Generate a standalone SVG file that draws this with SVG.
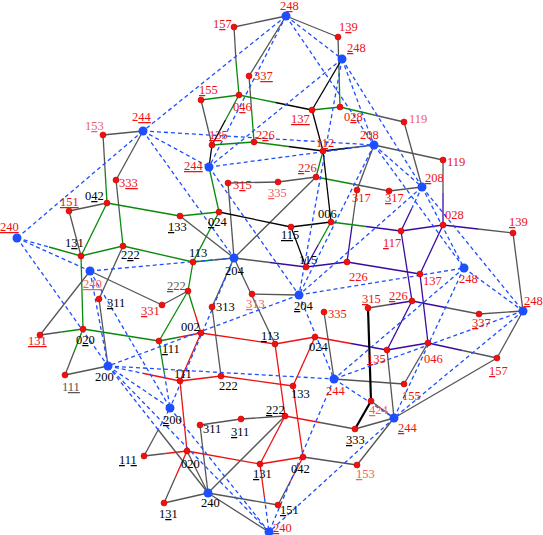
<svg xmlns="http://www.w3.org/2000/svg" width="543" height="535" viewBox="0 0 543 535">
<style>
text{font-family:"Liberation Serif","Times New Roman",serif;font-size:12.5px}
.k{fill:#000}.r{fill:#ee1111}.p{fill:#f06060}.gy{fill:#555}
.u{text-decoration:underline}
.rn{fill:#ee1111;stroke:#c00;stroke-width:0.6}
.bn{fill:#1d4fff}
.g{stroke:#555;stroke-width:1.3;fill:none}
.gn{stroke:#0a8a0a;stroke-width:1.3}
.rd{stroke:#ee1111;stroke-width:1.3}
.pu{stroke:#3a0aa0;stroke-width:1.3}
.bk{stroke:#000;stroke-width:1.3}
.bt{stroke:#000;stroke-width:2.2}
.d{stroke:#1d4fff;stroke-width:1.3;stroke-dasharray:4 3;fill:none}
</style>
<g id="connectors">
<line class="g" x1="234" y1="27" x2="286" y2="16"/>
<line class="g" x1="286" y1="16" x2="338" y2="37"/>
<line class="g" x1="286" y1="16" x2="249" y2="76"/>
<line class="g" x1="234" y1="27" x2="236" y2="61"/><line class="gn" x1="236" y1="61" x2="239" y2="95"/>
<line class="g" x1="338" y1="37" x2="339" y2="72"/><line class="gn" x1="339" y1="72" x2="340" y2="107"/>
<line class="g" x1="249" y1="76" x2="251.5" y2="109"/><line class="gn" x1="251.5" y1="109" x2="254" y2="142"/>
<line class="gn" x1="201" y1="100" x2="239" y2="95"/>
<line class="gn" x1="239" y1="95" x2="275.5" y2="102.5"/><line class="bk" x1="275.5" y1="102.5" x2="312" y2="110"/>
<line class="gn" x1="312" y1="110" x2="340" y2="107"/>
<line class="gn" x1="340" y1="107" x2="372" y2="114.5"/><line class="g" x1="372" y1="114.5" x2="404" y2="122"/>
<line class="bk" x1="312" y1="110" x2="342" y2="59"/>
<line class="bk" x1="312" y1="110" x2="323" y2="151"/>
<line class="g" x1="201" y1="100" x2="212" y2="145"/>
<line class="gn" x1="239" y1="95" x2="225.5" y2="120"/><line class="bk" x1="225.5" y1="120" x2="212" y2="145"/>
<line class="g" x1="404" y1="122" x2="422" y2="187"/>
<line class="g" x1="374" y1="145" x2="443" y2="160"/>
<line class="g" x1="443" y1="160" x2="443" y2="192.5"/><line class="pu" x1="443" y1="192.5" x2="443" y2="225"/>
<line class="pu" x1="443" y1="225" x2="478" y2="229"/><line class="g" x1="478" y1="229" x2="513" y2="233"/>
<line class="pu" x1="443" y1="225" x2="401" y2="231"/>
<line class="pu" x1="401" y1="231" x2="411.5" y2="209"/><line class="d" x1="411.5" y1="209" x2="422" y2="187"/>
<line class="g" x1="374" y1="145" x2="357" y2="190"/>
<line class="g" x1="357" y1="190" x2="352" y2="226"/><line class="pu" x1="352" y1="226" x2="347" y2="262"/>
<line class="gn" x1="316" y1="177" x2="352.5" y2="184"/><line class="g" x1="352.5" y1="184" x2="389" y2="191"/>
<line class="g" x1="389" y1="191" x2="422" y2="187"/>
<line class="gn" x1="331" y1="222" x2="366" y2="226.5"/><line class="pu" x1="366" y1="226.5" x2="401" y2="231"/>
<line class="pu" x1="401" y1="231" x2="412" y2="301"/>
<line class="pu" x1="443" y1="225" x2="420" y2="274"/>
<line class="pu" x1="420" y1="274" x2="428" y2="343"/>
<line class="pu" x1="347" y1="262" x2="420" y2="274"/>
<line class="pu" x1="412" y1="301" x2="445.5" y2="307.5"/><line class="g" x1="445.5" y1="307.5" x2="479" y2="314"/>
<line class="g" x1="479" y1="314" x2="523" y2="311"/>
<line class="g" x1="368" y1="308" x2="390" y2="304.5"/><line class="pu" x1="390" y1="304.5" x2="412" y2="301"/>
<line class="pu" x1="412" y1="301" x2="387" y2="350"/>
<line class="pu" x1="387" y1="350" x2="428" y2="343"/>
<line class="pu" x1="428" y1="343" x2="462.5" y2="350.5"/><line class="g" x1="462.5" y1="350.5" x2="497" y2="358"/>
<line class="g" x1="428" y1="343" x2="404" y2="384"/>
<line class="g" x1="387" y1="350" x2="394" y2="418"/>
<line class="g" x1="334" y1="379" x2="404" y2="384"/>
<line class="g" x1="497" y1="358" x2="523" y2="311"/>
<line class="g" x1="394" y1="418" x2="497" y2="358"/>
<line class="g" x1="513" y1="233" x2="523" y2="311"/>
<line class="g" x1="103" y1="135" x2="143" y2="131"/>
<line class="g" x1="103" y1="135" x2="105" y2="169"/><line class="gn" x1="105" y1="169" x2="107" y2="203"/>
<line class="g" x1="143" y1="131" x2="116" y2="180"/>
<line class="g" x1="116" y1="180" x2="119.5" y2="213"/><line class="gn" x1="119.5" y1="213" x2="123" y2="246"/>
<line class="gn" x1="107" y1="203" x2="180" y2="216"/>
<line class="g" x1="107" y1="203" x2="69" y2="211"/>
<line class="gn" x1="107" y1="203" x2="81" y2="256"/>
<line class="g" x1="69" y1="211" x2="81" y2="256"/>
<line class="gn" x1="81" y1="256" x2="123" y2="246"/>
<line class="gn" x1="123" y1="246" x2="193" y2="262"/>
<line class="gn" x1="180" y1="216" x2="219" y2="212"/>
<line class="gn" x1="212" y1="145" x2="254" y2="142"/>
<line class="gn" x1="254" y1="142" x2="288.5" y2="146.5"/><line class="bk" x1="288.5" y1="146.5" x2="323" y2="151"/>
<line class="gn" x1="323" y1="151" x2="316" y2="177"/>
<line class="bk" x1="323" y1="151" x2="331" y2="222"/>
<line class="bk" x1="323" y1="151" x2="348.5" y2="148"/><line class="g" x1="348.5" y1="148" x2="374" y2="145"/>
<line class="g" x1="316" y1="177" x2="278" y2="182"/>
<line class="g" x1="278" y1="182" x2="228" y2="183"/>
<line class="g" x1="228" y1="183" x2="234" y2="258"/>
<line class="g" x1="316" y1="177" x2="234" y2="258"/>
<line class="bk" x1="219" y1="212" x2="291" y2="227"/>
<line class="bk" x1="331" y1="222" x2="291" y2="227"/>
<line class="gn" x1="331" y1="222" x2="318.5" y2="244.5"/><line class="pu" x1="318.5" y1="244.5" x2="306" y2="267"/>
<line class="bk" x1="291" y1="227" x2="306" y2="267"/>
<line class="pu" x1="306" y1="267" x2="347" y2="262"/>
<line class="g" x1="234" y1="258" x2="270" y2="262.5"/><line class="pu" x1="270" y1="262.5" x2="306" y2="267"/>
<line class="gn" x1="193" y1="262" x2="213.5" y2="260"/><line class="g" x1="213.5" y1="260" x2="234" y2="258"/>
<line class="gn" x1="219" y1="212" x2="193" y2="262"/>
<line class="bk" x1="212" y1="145" x2="209" y2="167"/><line class="gn" x1="209" y1="167" x2="219" y2="212"/>
<line class="g" x1="180" y1="216" x2="234" y2="258"/>
<line class="g" x1="234" y1="258" x2="212" y2="307"/>
<line class="g" x1="234" y1="258" x2="275" y2="344"/>
<line class="g" x1="252" y1="294" x2="299" y2="295"/>
<line class="g" x1="324" y1="312" x2="334" y2="379"/>
<line class="rd" x1="201" y1="333" x2="275" y2="344"/>
<line class="rd" x1="275" y1="344" x2="315" y2="337"/>
<line class="rd" x1="315" y1="337" x2="351" y2="343.5"/><line class="pu" x1="351" y1="343.5" x2="387" y2="350"/>
<line class="rd" x1="201" y1="333" x2="194.5" y2="312"/><line class="gn" x1="194.5" y1="312" x2="188" y2="291"/>
<line class="rd" x1="201" y1="333" x2="180" y2="381"/>
<line class="rd" x1="180" y1="381" x2="221" y2="376"/>
<line class="rd" x1="221" y1="376" x2="293" y2="386"/>
<line class="rd" x1="275" y1="344" x2="285" y2="416"/>
<line class="rd" x1="315" y1="337" x2="293" y2="386"/>
<line class="g" x1="221" y1="376" x2="212" y2="307"/>
<line class="rd" x1="293" y1="386" x2="303" y2="457"/>
<line class="rd" x1="285" y1="416" x2="320" y2="422.5"/><line class="g" x1="320" y1="422.5" x2="355" y2="429"/>
<line class="rd" x1="285" y1="416" x2="260" y2="464"/>
<line class="rd" x1="260" y1="464" x2="187" y2="451"/>
<line class="rd" x1="260" y1="464" x2="303" y2="457"/>
<line class="rd" x1="180" y1="381" x2="187" y2="451"/>
<line class="g" x1="144" y1="456" x2="165.5" y2="453.5"/><line class="rd" x1="165.5" y1="453.5" x2="187" y2="451"/>
<line class="rd" x1="187" y1="451" x2="175.5" y2="477"/><line class="g" x1="175.5" y1="477" x2="164" y2="503"/>
<line class="g" x1="303" y1="457" x2="357" y2="465"/>
<line class="rd" x1="303" y1="457" x2="290.5" y2="481"/><line class="g" x1="290.5" y1="481" x2="278" y2="505"/>
<line class="g" x1="278" y1="505" x2="208" y2="493"/>
<line class="g" x1="187" y1="451" x2="208" y2="493"/>
<line class="g" x1="200" y1="425" x2="208" y2="493"/>
<line class="g" x1="200" y1="425" x2="241" y2="419"/>
<line class="g" x1="241" y1="419" x2="285" y2="416"/>
<line class="g" x1="208" y1="493" x2="285" y2="416"/>
<line class="g" x1="208" y1="493" x2="164" y2="503"/>
<line class="g" x1="208" y1="493" x2="269" y2="532"/>
<line class="rd" x1="260" y1="464" x2="264.5" y2="498"/><line class="d" x1="264.5" y1="498" x2="269" y2="532"/>
<line class="g" x1="355" y1="429" x2="394" y2="418"/>
<line class="g" x1="357" y1="465" x2="394" y2="418"/>
<line class="g" x1="371" y1="401" x2="394" y2="418"/>
<line class="bt" x1="368" y1="308" x2="371" y2="401"/>
<line class="bt" x1="371" y1="401" x2="355" y2="429"/>
<line class="gn" x1="49" y1="247" x2="81" y2="256"/>
<line class="gn" x1="81" y1="256" x2="83" y2="329"/>
<line class="gn" x1="83" y1="329" x2="61.5" y2="332"/><line class="g" x1="61.5" y1="332" x2="40" y2="335"/>
<line class="g" x1="40" y1="335" x2="90" y2="271"/>
<line class="gn" x1="83" y1="329" x2="74" y2="352"/><line class="g" x1="74" y1="352" x2="65" y2="375"/>
<line class="gn" x1="83" y1="329" x2="159" y2="341"/>
<line class="gn" x1="159" y1="341" x2="188" y2="291"/>
<line class="g" x1="162" y1="305" x2="188" y2="291"/>
<line class="g" x1="162" y1="305" x2="90" y2="271"/>
<line class="g" x1="99" y1="299" x2="123" y2="246"/>
<line class="g" x1="99" y1="299" x2="108" y2="366"/>
<line class="g" x1="65" y1="375" x2="108" y2="366"/>
<line class="d" x1="108" y1="366" x2="144" y2="373.5"/><line class="rd" x1="144" y1="373.5" x2="180" y2="381"/>
<line class="gn" x1="159" y1="341" x2="180" y2="337"/><line class="rd" x1="180" y1="337" x2="201" y2="333"/>
<line class="gn" x1="159" y1="341" x2="164.5" y2="374.5"/><line class="d" x1="164.5" y1="374.5" x2="170" y2="408"/>
<line class="gn" x1="188" y1="291" x2="193" y2="262"/>
<line class="g" x1="144" y1="456" x2="157" y2="432"/><line class="d" x1="157" y1="432" x2="170" y2="408"/>
<line class="d" x1="108" y1="366" x2="158" y2="429.5"/><line class="g" x1="158" y1="429.5" x2="208" y2="493"/>
<line class="d" x1="17" y1="238" x2="49" y2="247"/>
<line class="d" x1="286" y1="16" x2="143" y2="131"/>
<line class="d" x1="286" y1="16" x2="209" y2="167"/>
<line class="d" x1="286" y1="16" x2="342" y2="59"/>
<line class="d" x1="286" y1="16" x2="374" y2="145"/>
<line class="d" x1="342" y1="59" x2="374" y2="145"/>
<line class="d" x1="342" y1="59" x2="422" y2="187"/>
<line class="d" x1="342" y1="59" x2="209" y2="167"/>
<line class="d" x1="342" y1="59" x2="299" y2="295"/>
<line class="d" x1="143" y1="131" x2="17" y2="238"/>
<line class="d" x1="143" y1="131" x2="209" y2="167"/>
<line class="d" x1="143" y1="131" x2="374" y2="145"/>
<line class="d" x1="143" y1="131" x2="234" y2="258"/>
<line class="d" x1="209" y1="167" x2="374" y2="145"/>
<line class="d" x1="209" y1="167" x2="299" y2="295"/>
<line class="d" x1="374" y1="145" x2="422" y2="187"/>
<line class="d" x1="374" y1="145" x2="299" y2="295"/>
<line class="d" x1="374" y1="145" x2="464" y2="268"/>
<line class="d" x1="422" y1="187" x2="464" y2="268"/>
<line class="d" x1="422" y1="187" x2="523" y2="311"/>
<line class="d" x1="422" y1="187" x2="299" y2="295"/>
<line class="d" x1="17" y1="238" x2="90" y2="271"/>
<line class="d" x1="17" y1="238" x2="108" y2="366"/>
<line class="d" x1="90" y1="271" x2="108" y2="366"/>
<line class="d" x1="90" y1="271" x2="170" y2="408"/>
<line class="d" x1="90" y1="271" x2="234" y2="258"/>
<line class="d" x1="234" y1="258" x2="170" y2="408"/>
<line class="d" x1="299" y1="295" x2="334" y2="379"/>
<line class="d" x1="299" y1="295" x2="464" y2="268"/>
<line class="d" x1="299" y1="295" x2="108" y2="366"/>
<line class="d" x1="464" y1="268" x2="523" y2="311"/>
<line class="d" x1="464" y1="268" x2="334" y2="379"/>
<line class="d" x1="464" y1="268" x2="394" y2="418"/>
<line class="d" x1="523" y1="311" x2="334" y2="379"/>
<line class="d" x1="523" y1="311" x2="394" y2="418"/>
<line class="d" x1="108" y1="366" x2="170" y2="408"/>
<line class="d" x1="108" y1="366" x2="269" y2="532"/>
<line class="d" x1="108" y1="366" x2="334" y2="379"/>
<line class="d" x1="170" y1="408" x2="269" y2="532"/>
<line class="d" x1="334" y1="379" x2="394" y2="418"/>
<line class="d" x1="334" y1="379" x2="269" y2="532"/>
<line class="d" x1="394" y1="418" x2="269" y2="532"/>
</g>
<g id="B1"><circle class="bn" cx="286" cy="16" r="4.5"/><text class="r" x="280" y="10">2<tspan class="u">4</tspan>8</text></g>
<g id="B2"><circle class="bn" cx="342" cy="59" r="4.5"/><text class="r" x="347" y="52"><tspan class="u">2</tspan>48</text></g>
<g id="B3"><circle class="bn" cx="143" cy="131" r="4.5"/><text class="r" x="132" y="121">2<tspan class="u">44</tspan></text></g>
<g id="B4"><circle class="bn" cx="209" cy="167" r="4.5"/><text class="r" x="184" y="170"><tspan class="u">244</tspan></text></g>
<g id="B5"><circle class="bn" cx="374" cy="145" r="4.5"/><text class="r" x="360" y="139">208</text></g>
<g id="B6"><circle class="bn" cx="422" cy="187" r="4.5"/><text class="r" x="425" y="182"><tspan class="u">2</tspan>08</text></g>
<g id="B7"><circle class="bn" cx="17" cy="238" r="4.5"/><text class="r" x="0" y="231"><tspan class="u">240</tspan></text></g>
<g id="B8"><circle class="bn" cx="90" cy="271" r="4.5"/><text class="p" x="83" y="288"><tspan class="u">240</tspan></text></g>
<g id="B9"><circle class="bn" cx="234" cy="258" r="4.5"/><text class="k" x="225" y="275">204</text></g>
<g id="B10"><circle class="bn" cx="299" cy="295" r="4.5"/><text class="k" x="294" y="310"><tspan class="u">2</tspan>04</text></g>
<g id="B11"><circle class="bn" cx="464" cy="268" r="4.5"/><text class="r" x="459" y="283">248</text></g>
<g id="B12"><circle class="bn" cx="523" cy="311" r="4.5"/><text class="r" x="524" y="305"><tspan class="u">2</tspan>48</text></g>
<g id="B13"><circle class="bn" cx="108" cy="366" r="4.5"/><text class="k" x="95" y="381">200</text></g>
<g id="B14"><circle class="bn" cx="170" cy="408" r="4.5"/><text class="k" x="163" y="424"><tspan class="u">2</tspan>00</text></g>
<g id="B15"><circle class="bn" cx="334" cy="379" r="4.5"/><text class="r" x="326" y="395">244</text></g>
<g id="B16"><circle class="bn" cx="394" cy="418" r="4.5"/><text class="r" x="398" y="432"><tspan class="u">2</tspan>44</text></g>
<g id="B17"><circle class="bn" cx="208" cy="493" r="4.5"/><text class="k" x="201" y="507">240</text></g>
<g id="B18"><circle class="bn" cx="269" cy="532" r="4.5"/><text class="r" x="273" y="532"><tspan class="u">2</tspan>40</text></g>
<g id="R1"><circle class="rn" cx="234" cy="27" r="3"/><text class="r" x="213" y="28">1<tspan class="u">5</tspan>7</text></g>
<g id="R2"><circle class="rn" cx="338" cy="37" r="3"/><text class="r" x="339" y="31">1<tspan class="u">3</tspan>9</text></g>
<g id="R3"><circle class="rn" cx="249" cy="76" r="3"/><text class="r" x="254" y="80">3<tspan class="u">37</tspan></text></g>
<g id="R4"><circle class="rn" cx="201" cy="100" r="3"/><text class="r" x="199" y="94"><tspan class="u">1</tspan>55</text></g>
<g id="R5"><circle class="rn" cx="239" cy="95" r="3"/><text class="r" x="233" y="111">0<tspan class="u">4</tspan>6</text></g>
<g id="R6"><circle class="rn" cx="312" cy="110" r="3"/><text class="r" x="291" y="123"><tspan class="u">137</tspan></text></g>
<g id="R7"><circle class="rn" cx="340" cy="107" r="3"/><text class="r" x="344" y="121">0<tspan class="u">2</tspan>8</text></g>
<g id="R8"><circle class="rn" cx="404" cy="122" r="3"/><text class="p" x="409" y="123">119</text></g>
<g id="R9"><circle class="rn" cx="103" cy="135" r="3"/><text class="p" x="85" y="130">1<tspan class="u">5</tspan>3</text></g>
<g id="R10"><circle class="rn" cx="212" cy="145" r="3"/><text class="r" x="209" y="139"><tspan class="u">13</tspan>5</text></g>
<g id="R11"><circle class="rn" cx="254" cy="142" r="3"/><text class="r" x="256" y="139">2<tspan class="u">2</tspan>6</text></g>
<g id="R12"><circle class="rn" cx="323" cy="151" r="3"/><text class="r" x="316" y="147">1<tspan class="u">1</tspan>2</text></g>
<g id="R13"><circle class="rn" cx="316" cy="177" r="3"/><text class="r" x="298" y="172"><tspan class="u">2</tspan>26</text></g>
<g id="R14"><circle class="rn" cx="228" cy="183" r="3"/><text class="r" x="233" y="189">3<tspan class="u">1</tspan>5</text></g>
<g id="R15"><circle class="rn" cx="278" cy="182" r="3"/><text class="p" x="268" y="197"><tspan class="u">3</tspan>35</text></g>
<g id="R16"><circle class="rn" cx="357" cy="190" r="3"/><text class="r" x="352" y="202">317</text></g>
<g id="R17"><circle class="rn" cx="389" cy="191" r="3"/><text class="r" x="385" y="202"><tspan class="u">3</tspan>17</text></g>
<g id="R18"><circle class="rn" cx="443" cy="160" r="3"/><text class="r" x="447" y="166">119</text></g>
<g id="R19"><circle class="rn" cx="116" cy="180" r="3"/><text class="r" x="119" y="187">3<tspan class="u">33</tspan></text></g>
<g id="R20"><circle class="rn" cx="107" cy="203" r="3"/><text class="k" x="85" y="200">0<tspan class="u">4</tspan>2</text></g>
<g id="R21"><circle class="rn" cx="69" cy="211" r="3"/><text class="r" x="60" y="206"><tspan class="u">151</tspan></text></g>
<g id="R22"><circle class="rn" cx="180" cy="216" r="3"/><text class="k" x="168" y="231"><tspan class="u">1</tspan>33</text></g>
<g id="R23"><circle class="rn" cx="219" cy="212" r="3"/><text class="k" x="208" y="226"><tspan class="u">0</tspan>24</text></g>
<g id="R24"><circle class="rn" cx="331" cy="222" r="3"/><text class="k" x="318" y="218">006</text></g>
<g id="R25"><circle class="rn" cx="291" cy="227" r="3"/><text class="k" x="281" y="239"><tspan class="u">11</tspan>5</text></g>
<g id="R26"><circle class="rn" cx="443" cy="225" r="3"/><text class="r" x="445" y="219">028</text></g>
<g id="R27"><circle class="rn" cx="401" cy="231" r="3"/><text class="r" x="383" y="247"><tspan class="u">1</tspan>17</text></g>
<g id="R28"><circle class="rn" cx="513" cy="233" r="3"/><text class="r" x="509" y="226"><tspan class="u">1</tspan>39</text></g>
<g id="R29"><circle class="rn" cx="81" cy="256" r="3"/><text class="k" x="65" y="247">1<tspan class="u">3</tspan>1</text></g>
<g id="R30"><circle class="rn" cx="123" cy="246" r="3"/><text class="k" x="121" y="259">2<tspan class="u">2</tspan>2</text></g>
<g id="R31"><circle class="rn" cx="193" cy="262" r="3"/><text class="k" x="189" y="257">113</text></g>
<g id="R32"><circle class="rn" cx="306" cy="267" r="3"/><text class="k" x="299" y="264">115</text></g>
<g id="R33"><circle class="rn" cx="347" cy="262" r="3"/><text class="r" x="349" y="281">226</text></g>
<g id="R34"><circle class="rn" cx="420" cy="274" r="3"/><text class="r" x="423" y="285">137</text></g>
<g id="R35"><circle class="rn" cx="188" cy="291" r="3"/><text class="gy" x="167" y="290"><tspan class="u">2</tspan>22</text></g>
<g id="R36"><circle class="rn" cx="99" cy="299" r="3"/><text class="k" x="107" y="307"><tspan class="u">3</tspan>11</text></g>
<g id="R37"><circle class="rn" cx="162" cy="305" r="3"/><text class="r" x="141" y="315"><tspan class="u">3</tspan>31</text></g>
<g id="R38"><circle class="rn" cx="212" cy="307" r="3"/><text class="k" x="216" y="311">313</text></g>
<g id="R39"><circle class="rn" cx="252" cy="294" r="3"/><text class="p" x="246" y="308"><tspan class="u">3</tspan>13</text></g>
<g id="R40"><circle class="rn" cx="368" cy="308" r="3"/><text class="r" x="362" y="303"><tspan class="u">3</tspan>15</text></g>
<g id="R41"><circle class="rn" cx="412" cy="301" r="3"/><text class="r" x="389" y="300"><tspan class="u">2</tspan>26</text></g>
<g id="R42"><circle class="rn" cx="479" cy="314" r="3"/><text class="r" x="472" y="327"><tspan class="u">3</tspan>37</text></g>
<g id="R43"><circle class="rn" cx="324" cy="312" r="3"/><text class="r" x="328" y="318">335</text></g>
<g id="R44"><circle class="rn" cx="40" cy="335" r="3"/><text class="r" x="28" y="345"><tspan class="u">131</tspan></text></g>
<g id="R45"><circle class="rn" cx="83" cy="329" r="3"/><text class="k" x="76" y="344">0<tspan class="u">2</tspan>0</text></g>
<g id="R46"><circle class="rn" cx="159" cy="341" r="3"/><text class="k" x="162" y="353"><tspan class="u">1</tspan>11</text></g>
<g id="R47"><circle class="rn" cx="201" cy="333" r="3"/><text class="k" x="181" y="331">002</text></g>
<g id="R48"><circle class="rn" cx="275" cy="344" r="3"/><text class="k" x="261" y="340"><tspan class="u">1</tspan>13</text></g>
<g id="R49"><circle class="rn" cx="315" cy="337" r="3"/><text class="k" x="309" y="351">024</text></g>
<g id="R50"><circle class="rn" cx="387" cy="350" r="3"/><text class="r" x="367" y="363"><tspan class="u">1</tspan>35</text></g>
<g id="R51"><circle class="rn" cx="428" cy="343" r="3"/><text class="r" x="424" y="363">046</text></g>
<g id="R52"><circle class="rn" cx="497" cy="358" r="3"/><text class="r" x="489" y="375"><tspan class="u">1</tspan>57</text></g>
<g id="R53"><circle class="rn" cx="65" cy="375" r="3"/><text class="gy" x="62" y="391">1<tspan class="u">11</tspan></text></g>
<g id="R54"><circle class="rn" cx="180" cy="381" r="3"/><text class="k" x="174" y="378">111</text></g>
<g id="R55"><circle class="rn" cx="221" cy="376" r="3"/><text class="k" x="219" y="390">222</text></g>
<g id="R56"><circle class="rn" cx="293" cy="386" r="3"/><text class="k" x="291" y="398">133</text></g>
<g id="R57"><circle class="rn" cx="404" cy="384" r="3"/><text class="r" x="402" y="400">155</text></g>
<g id="R58"><circle class="rn" cx="371" cy="401" r="3"/><text class="p" x="369" y="414"><tspan class="u">4</tspan>24</text></g>
<g id="R59"><circle class="rn" cx="355" cy="429" r="3"/><text class="k" x="346" y="444"><tspan class="u">3</tspan>33</text></g>
<g id="R60"><circle class="rn" cx="200" cy="425" r="3"/><text class="k" x="203" y="433">311</text></g>
<g id="R61"><circle class="rn" cx="241" cy="419" r="3"/><text class="k" x="231" y="436"><tspan class="u">3</tspan>11</text></g>
<g id="R62"><circle class="rn" cx="285" cy="416" r="3"/><text class="k" x="266" y="414"><tspan class="u">2</tspan>22</text></g>
<g id="R63"><circle class="rn" cx="144" cy="456" r="3"/><text class="k" x="119" y="464"><tspan class="u">1</tspan>1<tspan class="u">1</tspan></text></g>
<g id="R64"><circle class="rn" cx="187" cy="451" r="3"/><text class="k" x="181" y="468">020</text></g>
<g id="R65"><circle class="rn" cx="260" cy="464" r="3"/><text class="k" x="253" y="478"><tspan class="u">1</tspan>31</text></g>
<g id="R66"><circle class="rn" cx="303" cy="457" r="3"/><text class="k" x="291" y="473">042</text></g>
<g id="R67"><circle class="rn" cx="357" cy="465" r="3"/><text class="p" x="356" y="478"><tspan class="u">1</tspan>53</text></g>
<g id="R68"><circle class="rn" cx="164" cy="503" r="3"/><text class="k" x="159" y="518">1<tspan class="u">3</tspan>1</text></g>
<g id="R69"><circle class="rn" cx="278" cy="505" r="3"/><text class="k" x="280" y="514"><tspan class="u">1</tspan>51</text></g>
</svg>
